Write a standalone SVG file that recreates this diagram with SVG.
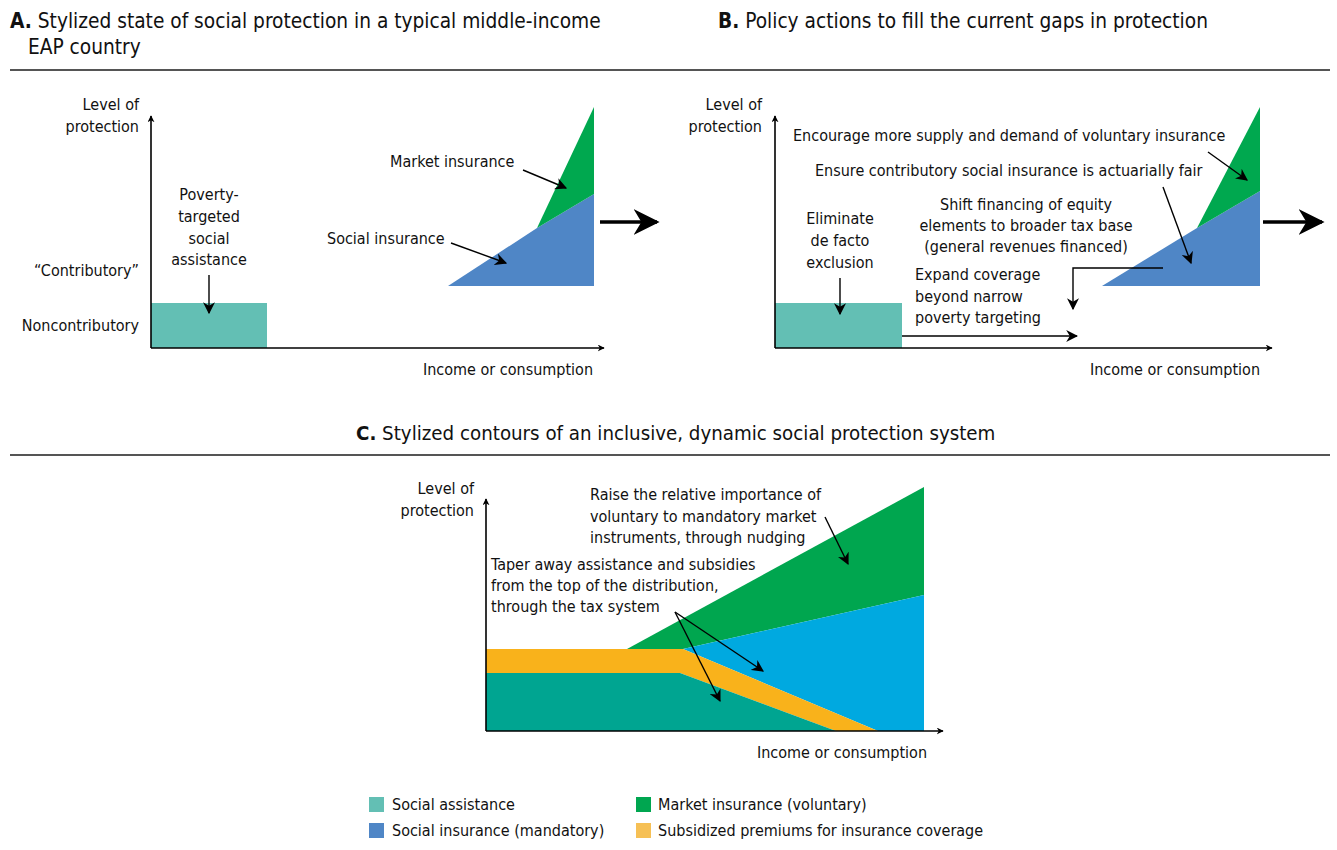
<svg xmlns="http://www.w3.org/2000/svg" width="1337" height="850" viewBox="0 0 1337 850">
<defs>
<marker id="ah" viewBox="0 0 10 10" refX="9" refY="5" markerWidth="7" markerHeight="7" markerUnits="userSpaceOnUse" orient="auto"><path d="M0,0 L10,5 L0,10 L3,5 z" fill="#000"/></marker>
<marker id="ahs" viewBox="0 0 10 10" refX="9" refY="5" markerWidth="12" markerHeight="12" markerUnits="userSpaceOnUse" orient="auto"><path d="M0,0 L10,5 L0,10 L3,5 z" fill="#000"/></marker>
<marker id="big" viewBox="0 0 10 10" refX="9" refY="5" markerWidth="26" markerHeight="26" markerUnits="userSpaceOnUse" orient="auto"><path d="M0,0 L10,5 L0,10 L3,5 z" fill="#000"/></marker>
</defs>
<style>
text{font-family:"DejaVu Sans Condensed","DejaVu Sans",sans-serif;fill:#111;}
.t{font-size:20.7px;}
.l{font-size:16px;}
.r{text-anchor:end;}
.m{text-anchor:middle;}
.ax{stroke:#000;stroke-width:1.6;fill:none;marker-end:url(#ah);}
.c{stroke:#000;stroke-width:1.4;fill:none;marker-end:url(#ahs);}
.bg{stroke:#000;stroke-width:3.5;fill:none;marker-end:url(#big);}
.rule{stroke:#555;stroke-width:2;}
</style>
<rect width="1337" height="850" fill="#fff"/>

<g id="titles">
<text class="t" x="10" y="28"><tspan font-weight="bold">A.</tspan> Stylized state of social protection in a typical middle-income</text>
<text class="t" x="28" y="54">EAP country</text>
<text class="t" x="718" y="28"><tspan font-weight="bold">B.</tspan> Policy actions to fill the current gaps in protection</text>
<text class="t" x="356" y="440" style="font-size:20.3px"><tspan font-weight="bold">C.</tspan> Stylized contours of an inclusive, dynamic social protection system</text>
<line class="rule" x1="10" y1="70" x2="1330" y2="70"/>
<line class="rule" x1="10" y1="455" x2="1330" y2="455"/>
</g>

<g id="panelA">
<rect x="151" y="303" width="116" height="45" fill="#63bfb4"/>
<polygon points="448,286 537,228 594,194 594,286" fill="#4f86c6"/>
<polygon points="537,228 594,107 594,194" fill="#00a84f"/>
<text class="l r" x="139" y="110">Level of</text>
<text class="l r" x="139" y="132">protection</text>
<text class="l r" x="139" y="276">“Contributory”</text>
<text class="l r" x="139" y="331">Noncontributory</text>
<text class="l m" x="209" y="200">Poverty-</text>
<text class="l m" x="209" y="222">targeted</text>
<text class="l m" x="209" y="244">social</text>
<text class="l m" x="209" y="265">assistance</text>
<text class="l" x="390" y="167">Market insurance</text>
<text class="l" x="327" y="244">Social insurance</text>
<text class="l r" x="593" y="375">Income or consumption</text>
</g>

<g id="panelB">
<rect x="775" y="303" width="127" height="45" fill="#63bfb4"/>
<polygon points="1102,286 1197,228 1260,191 1260,286" fill="#4f86c6"/>
<polygon points="1197,228 1260,107 1260,191" fill="#00a84f"/>
<text class="l r" x="762" y="110">Level of</text>
<text class="l r" x="762" y="132">protection</text>
<text class="l" x="793" y="141">Encourage more supply and demand of voluntary insurance</text>
<text class="l" x="815" y="176">Ensure contributory social insurance is actuarially fair</text>
<text class="l m" x="1026" y="210">Shift financing of equity</text>
<text class="l m" x="1026" y="231">elements to broader tax base</text>
<text class="l m" x="1026" y="252">(general revenues financed)</text>
<text class="l m" x="840" y="224">Eliminate</text>
<text class="l m" x="840" y="246">de facto</text>
<text class="l m" x="840" y="268">exclusion</text>
<text class="l" x="915" y="280">Expand coverage</text>
<text class="l" x="915" y="302">beyond narrow</text>
<text class="l" x="915" y="323">poverty targeting</text>
<text class="l r" x="1260" y="375">Income or consumption</text>
</g>

<g id="panelC">
<polygon points="627,649 924,487 924,595 683,649" fill="#00a64f"/>
<polygon points="683,649 924,595 924,731 878,731" fill="#00a9e0"/>
<polygon points="486,649 683,649 878,731 836,731 680,673 486,673" fill="#f9b21b"/>
<polygon points="486,673 680,673 836,731 486,731" fill="#00a591"/>
<text class="l r" x="474" y="494">Level of</text>
<text class="l r" x="474" y="516">protection</text>
<text class="l" x="590" y="500">Raise the relative importance of</text>
<text class="l" x="590" y="522">voluntary to mandatory market</text>
<text class="l" x="590" y="543">instruments, through nudging</text>
<text class="l" x="491" y="570">Taper away assistance and subsidies</text>
<text class="l" x="491" y="591">from the top of the distribution,</text>
<text class="l" x="491" y="612">through the tax system</text>
<text class="l r" x="927" y="758">Income or consumption</text>
</g>

<g id="legend">
<rect x="369" y="797" width="15" height="15" fill="#63bfb4"/>
<text class="l" x="392" y="810">Social assistance</text>
<rect x="369" y="823" width="15" height="15" fill="#4f86c6"/>
<text class="l" x="392" y="836">Social insurance (mandatory)</text>
<rect x="636" y="797" width="15" height="15" fill="#00a650"/>
<text class="l" x="658" y="810">Market insurance (voluntary)</text>
<rect x="636" y="823" width="15" height="15" fill="#f6c055"/>
<text class="l" x="658" y="836">Subsidized premiums for insurance coverage</text>
</g>

<g id="connectors">
<path class="ax" d="M151,348 V116"/>
<path class="ax" d="M151,348 H604"/>
<path class="c" d="M209,275 V313"/>
<path class="c" d="M523,170 L566,188"/>
<path class="c" d="M451,243 L506,263"/>
<path class="bg" d="M600,222 H657"/>

<path class="ax" d="M775,348 V116"/>
<path class="ax" d="M775,348 H1272"/>
<path class="c" d="M840,278 V314"/>
<path class="c" d="M902,336 H1077"/>
<path class="c" d="M1163,268 H1073 V309"/>
<path class="c" d="M1163,187 L1191,263"/>
<path class="c" d="M1208,152 L1247,180"/>
<path class="bg" d="M1263,222 H1322"/>

<path class="ax" d="M486,731 V499"/>
<path class="ax" d="M486,731 H943"/>
<path class="c" d="M825,517 L848,564"/>
<path class="c" d="M675,612 L763,671"/>
<path class="c" d="M675,612 L720,701"/>
</g>
</svg>
